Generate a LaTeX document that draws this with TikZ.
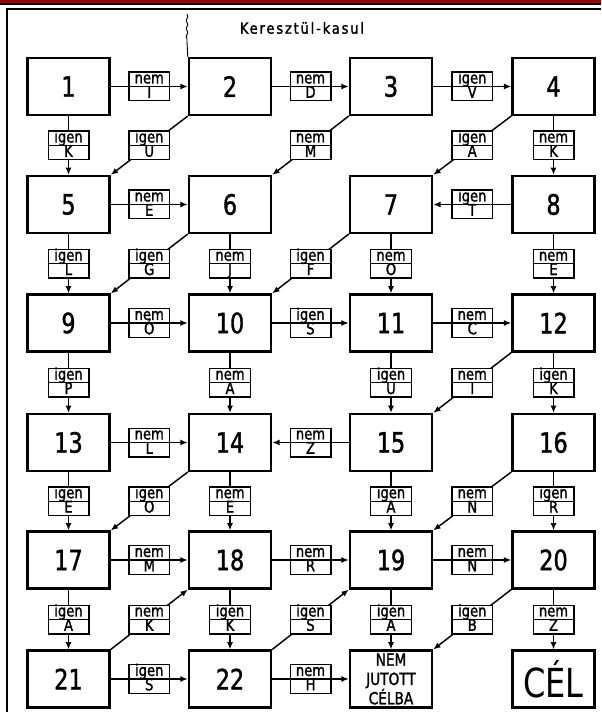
\documentclass[tikz,border=0pt]{standalone}
\usepackage{fontspec}
\setmainfont{DejaVu Sans}[FakeStretch=0.8]
\newfontfamily\numfont{DejaVu Sans}[FakeStretch=0.8,FakeBold=1.2]
\newfontfamily\labfont{DejaVu Sans}[FakeStretch=0.82,FakeBold=1.5]
\newfontfamily\titlefont{DejaVu Sans}[FakeStretch=0.85,FakeBold=1.5,LetterSpace=12]
\usetikzlibrary{arrows.meta,calc,decorations.pathmorphing}

\tikzset{
  bigbox/.style={draw, line width=1.8pt, minimum width=61.5pt, minimum height=42.5pt,
    inner sep=0pt, font=\numfont\fontsize{21}{22}\selectfont},
  labbox/.style={draw, line width=1pt, fill=white, minimum width=30.5pt,
    minimum height=21.5pt, inner sep=0pt},
  labtext/.style={inner sep=0pt, anchor=base, font=\labfont\fontsize{12}{12}\selectfont},
  conn/.style={line width=1.1pt, -{Latex[length=5.5pt,width=4.5pt]}},
}

\newcommand\lab[4]{%
  \node[labbox] (#1) at (#2) {};
  \draw[line width=1pt] (#1.west) -- (#1.east);
  \node[labtext] (#1t) at ([yshift=2.3pt]#1.center) {#3};
  \node[labtext] (#1b) at ([yshift=2.8pt]#1.south) {#4};
}
\newcommand\edgelab[5]{%
  \draw[conn] (#1) -- (#2);
  \lab{#3}{$(#1)!0.5!(#2)$}{#4}{#5}%
}

\begin{document}
\begin{tikzpicture}[x=0.75pt,y=-0.75pt]
\useasboundingbox (0,0) rectangle (601,712);
% top band and frame
\fill[red!65!black] (0,0) rectangle (601,3.2);
\draw[line width=1pt] (0,4) -- (601,4);
\draw[line width=1pt] (7,712) -- (7,9) -- (601,9);
\node[inner sep=0pt, font=\titlefont\fontsize{11.5}{12}\selectfont] (title) at (302,28) {Keresztül-kasul};

% boxes
\def\ca{68.5} \def\cb{230} \def\cc{391} \def\cd{553.5}
\def\ra{86.5} \def\rb{204.5} \def\rc{323} \def\rd{442.5} \def\re{560} \def\rf{679}
\node[bigbox] (b1) at (\ca,\ra) {1};
\node[bigbox] (b2) at (\cb,\ra) {2};
\node[bigbox] (b3) at (\cc,\ra) {3};
\node[bigbox] (b4) at (\cd,\ra) {4};
\node[bigbox] (b5) at (\ca,\rb) {5};
\node[bigbox] (b6) at (\cb,\rb) {6};
\node[bigbox] (b7) at (\cc,\rb) {7};
\node[bigbox] (b8) at (\cd,\rb) {8};
\node[bigbox] (b9) at (\ca,\rc) {9};
\node[bigbox] (b10) at (\cb,\rc) {10};
\node[bigbox] (b11) at (\cc,\rc) {11};
\node[bigbox] (b12) at (\cd,\rc) {12};
\node[bigbox] (b13) at (\ca,\rd) {13};
\node[bigbox] (b14) at (\cb,\rd) {14};
\node[bigbox] (b15) at (\cc,\rd) {15};
\node[bigbox] (b16) at (\cd,\rd) {16};
\node[bigbox] (b17) at (\ca,\re) {17};
\node[bigbox] (b18) at (\cb,\re) {18};
\node[bigbox] (b19) at (\cc,\re) {19};
\node[bigbox] (b20) at (\cd,\re) {20};
\node[bigbox] (b21) at (\ca,\rf) {21};
\node[bigbox] (b22) at (\cb,\rf) {22};
\node[bigbox, align=center, font=\labfont\fontsize{12.5}{14.5}\selectfont] (bn) at (\cc,\rf) {NEM\\JUTOTT\\CÉLBA};
\node[bigbox, font=\fontsize{30}{30}\selectfont] (bc) at (\cd,\rf) {CÉL};

% scan mark
\draw[line width=0.7pt, decorate, decoration={snake, amplitude=0.6pt, segment length=6pt}]
  (187,14) -- (187,42);
\coordinate (sq) at (187,42);
\draw[line width=0.7pt] (sq) -- (b2.north west);

% connectors with labels
\edgelab{b1.east}{b2.west}{e1}{nem}{I}
\edgelab{b2.east}{b3.west}{e2}{nem}{D}
\edgelab{b3.east}{b4.west}{e3}{igen}{V}
\edgelab{b1.south}{b5.north}{e4}{igen}{K}
\edgelab{b2.south west}{b5.north east}{e5}{igen}{U}
\edgelab{b3.south west}{b6.north east}{e6}{nem}{M}
\edgelab{b4.south west}{b7.north east}{e7}{igen}{A}
\edgelab{b4.south}{b8.north}{e8}{nem}{K}
\edgelab{b5.east}{b6.west}{e9}{nem}{E}
\edgelab{b8.west}{b7.east}{e10}{igen}{T}
\edgelab{b5.south}{b9.north}{e11}{igen}{L}
\edgelab{b6.south west}{b9.north east}{e12}{igen}{G}
\edgelab{b6.south}{b10.north}{e13}{nem}{J}
\edgelab{b7.south west}{b10.north east}{e14}{igen}{F}
\edgelab{b7.south}{b11.north}{e15}{nem}{O}
\edgelab{b8.south}{b12.north}{e16}{nem}{E}
\edgelab{b9.east}{b10.west}{e17}{nem}{Ó}
\edgelab{b10.east}{b11.west}{e18}{igen}{S}
\edgelab{b11.east}{b12.west}{e19}{nem}{C}
\edgelab{b9.south}{b13.north}{e20}{igen}{P}
\edgelab{b10.south}{b14.north}{e21}{nem}{A}
\edgelab{b11.south}{b15.north}{e22}{igen}{U}
\edgelab{b12.south west}{b15.north east}{e23}{nem}{I}
\edgelab{b12.south}{b16.north}{e24}{igen}{K}
\edgelab{b13.east}{b14.west}{e25}{nem}{L}
\edgelab{b15.west}{b14.east}{e26}{nem}{Z}
\edgelab{b13.south}{b17.north}{e27}{igen}{E}
\edgelab{b14.south west}{b17.north east}{e28}{igen}{O}
\edgelab{b14.south}{b18.north}{e29}{nem}{E}
\edgelab{b15.south}{b19.north}{e30}{igen}{A}
\edgelab{b16.south west}{b19.north east}{e31}{nem}{N}
\edgelab{b16.south}{b20.north}{e32}{igen}{R}
\edgelab{b17.east}{b18.west}{e33}{nem}{M}
\edgelab{b18.east}{b19.west}{e34}{nem}{R}
\edgelab{b19.east}{b20.west}{e35}{nem}{N}
\edgelab{b17.south}{b21.north}{e36}{igen}{A}
\edgelab{b21.north east}{b18.south west}{e37}{nem}{K}
\edgelab{b18.south}{b22.north}{e38}{igen}{K}
\edgelab{b22.north east}{b19.south west}{e39}{igen}{S}
\edgelab{b19.south}{bn.north}{e40}{igen}{A}
\edgelab{b20.south west}{bn.north east}{e41}{igen}{B}
\edgelab{b20.south}{bc.north}{e42}{nem}{Z}
\edgelab{b21.east}{b22.west}{e43}{igen}{S}
\edgelab{b22.east}{bn.west}{e44}{nem}{H}
\end{tikzpicture}
\end{document}
